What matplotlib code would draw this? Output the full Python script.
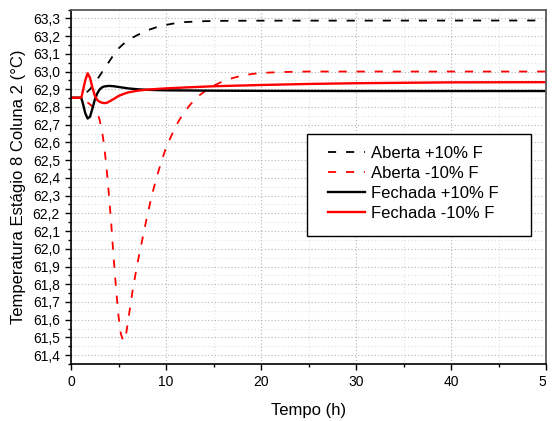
import matplotlib
matplotlib.use("Agg")
import matplotlib.pyplot as plt
from matplotlib.ticker import MultipleLocator, FuncFormatter
from matplotlib.patches import Rectangle
from matplotlib.transforms import Bbox, TransformedBbox

plt.rcParams['font.family'] = ['Liberation Sans', 'DejaVu Sans']

# Aberta +10% F (black dashed)
t_ab_mais = [0, 1.1, 1.5, 2.0, 2.5, 3.0, 3.5, 4.0, 4.5, 5.0, 5.5, 6.0, 6.5, 7, 8, 9, 10,
             11, 12, 14, 16, 20, 50]
v_ab_mais = [62.852, 62.852, 62.875, 62.90, 62.935, 62.975, 63.015, 63.055, 63.095, 63.13,
             63.155, 63.175, 63.192, 63.206, 63.232, 63.25, 63.263, 63.273, 63.279, 63.284,
             63.286, 63.287, 63.288]

# Aberta -10% F (red dashed)
t_ab_menos = [0, 1.1, 1.5, 2.0, 2.5, 2.75, 3.0, 3.25, 3.5, 3.75, 4.0, 4.25, 4.5, 4.75, 5.0,
              5.25, 5.5, 5.75, 6.0, 6.25, 6.5, 7.0, 7.5, 8.0, 8.5, 9.0, 9.5, 10, 10.5, 11,
              11.5, 12, 12.5, 13, 13.5, 14, 14.5, 15, 16, 17, 18, 19, 20, 22, 25, 50]
v_ab_menos = [62.852, 62.852, 62.835, 62.815, 62.79, 62.77, 62.73, 62.67, 62.58, 62.45, 62.30,
              62.13, 61.94, 61.77, 61.62, 61.52, 61.48, 61.50, 61.59, 61.68, 61.77, 61.92,
              62.05, 62.18, 62.30, 62.40, 62.49, 62.57, 62.63, 62.69, 62.735, 62.775, 62.81,
              62.84, 62.865, 62.885, 62.905, 62.92, 62.945, 62.963, 62.977, 62.986, 62.992,
              62.997, 63.0, 63.0]

# Fechada +10% F (black solid)
t_fe_mais = [0, 1.0, 1.1, 1.25, 1.5, 1.75, 2.0, 2.25, 2.5, 2.75, 3.0, 3.25, 3.5, 4.0, 4.5,
             5, 5.5, 6, 7, 8, 10, 15, 20, 30, 50]
v_fe_mais = [62.852, 62.852, 62.848, 62.82, 62.765, 62.735, 62.745, 62.79, 62.84, 62.875,
             62.898, 62.91, 62.916, 62.919, 62.917, 62.913, 62.909, 62.905, 62.90, 62.897,
             62.894, 62.892, 62.891, 62.89, 62.89]

# Fechada -10% F (red solid)
t_fe_menos = [0, 1.0, 1.1, 1.25, 1.5, 1.75, 2.0, 2.25, 2.5, 2.75, 3.0, 3.25, 3.5, 3.75, 4.0,
              4.5, 5, 5.5, 6, 7, 8, 10, 12, 15, 20, 25, 30, 40, 50]
v_fe_menos = [62.852, 62.852, 62.854, 62.89, 62.95, 62.99, 62.965, 62.91, 62.865, 62.84,
              62.83, 62.824, 62.822, 62.823, 62.83, 62.845, 62.862, 62.873, 62.882, 62.892,
              62.898, 62.905, 62.91, 62.917, 62.924, 62.93, 62.934, 62.939, 62.94]

fig = plt.figure(figsize=(5.56, 4.21), dpi=100)
ax = fig.add_axes([71/556, 1-364/421, 475/556, 354.5/421])

dash = (0, (4.5, 5.5))
ax.plot(t_ab_mais, v_ab_mais, color='black', lw=1.3, linestyle=dash, label='Aberta +10% F')
ax.plot(t_ab_menos, v_ab_menos, color='red', lw=1.3, linestyle=dash, label='Aberta -10% F')
ax.plot(t_fe_mais, v_fe_mais, color='black', lw=1.7, label='Fechada +10% F')
ax.plot(t_fe_menos, v_fe_menos, color='red', lw=1.7, label='Fechada -10% F')

ax.set_xlim(0, 50)
ax.set_ylim(61.35, 63.35)
ax.xaxis.set_major_locator(MultipleLocator(10))
ax.xaxis.set_minor_locator(MultipleLocator(5))
ax.yaxis.set_major_locator(MultipleLocator(0.1))
ax.yaxis.set_minor_locator(MultipleLocator(0.05))
ax.yaxis.set_major_formatter(FuncFormatter(lambda v, p: f"{v:.1f}".replace('.', ',')))

ax.grid(which='major', color='#b4b4b4', lw=0.8, linestyle=(0, (1, 2)))
ax.grid(which='minor', color='#e2e2e2', lw=0.8, linestyle=(0, (1, 2)))
ax.set_axisbelow(True)

ax.tick_params(which='major', direction='out', length=4, width=1, labelsize=10, pad=4)
ax.tick_params(which='minor', direction='out', length=2.5, width=1)
for s in ['left', 'bottom']:
    ax.spines[s].set_linewidth(1.2)
    ax.spines[s].set_color('black')
for s in ['top', 'right']:
    ax.spines[s].set_linewidth(1.3)
    ax.spines[s].set_color('#5a5a5a')

ax.set_xlabel('Tempo (h)', fontsize=12, labelpad=10)
ax.set_ylabel('Temperatura Estágio 8 Coluna 2 (°C)', fontsize=12, labelpad=5)

# legend box
ax.add_patch(Rectangle((0.497, 0.361), 0.471, 0.288, transform=ax.transAxes,
                       facecolor='white', edgecolor='black', lw=1, zorder=4.5))
ax.legend(loc='upper left', bbox_to_anchor=(0.541, 0.615), frameon=False, fontsize=12,
          handlelength=2.2, handletextpad=0.36, labelspacing=0.3, borderpad=0,
          borderaxespad=0)

# the reference image is cut right at the axes edge
clip = TransformedBbox(Bbox([[0, 0], [546/556, 1]]), fig.transFigure)
for tick in ax.xaxis.get_major_ticks():
    tick.label1.set_clip_box(clip)
    tick.label1.set_clip_on(True)

fig.savefig('out.png', dpi=100)
